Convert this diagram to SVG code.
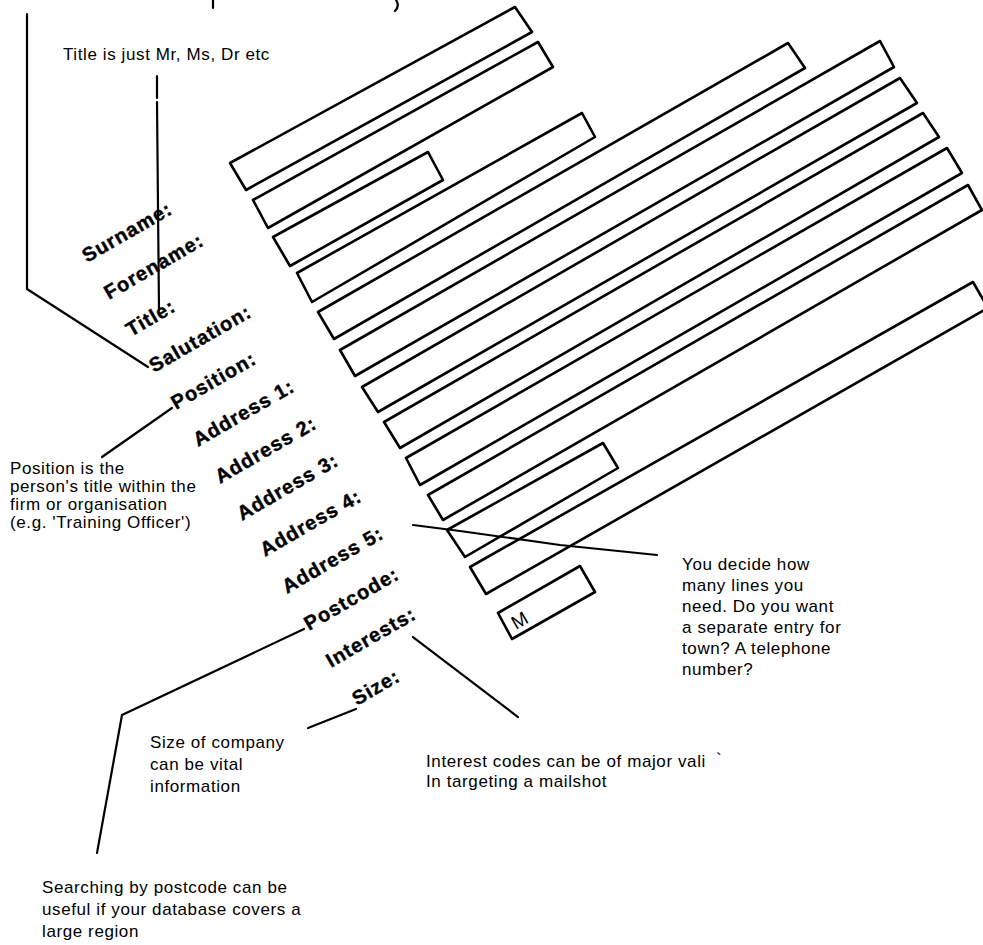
<svg xmlns="http://www.w3.org/2000/svg" width="983" height="945" viewBox="0 0 983 945">
<style>
.box{fill:none;stroke:#000;stroke-width:2.6;stroke-linejoin:round}
.ln{fill:none;stroke:#000;stroke-width:2.2;stroke-linecap:round;stroke-linejoin:round}
.lbl{font-family:"Liberation Sans",Arial,sans-serif;font-weight:bold;font-size:20px;letter-spacing:1px;fill:#000;stroke:#000;stroke-width:0.4}
.note{font-family:"Liberation Sans",Arial,sans-serif;font-size:17px;letter-spacing:0.6px;fill:#000}
</style>
<rect width="983" height="945" fill="#fff"/>
<g id="top-fragments">
<path class="ln" d="M213,0 V8 M396,0 q4,6 -1,11"/>
</g>
<g id="node-surname"><polygon class="box" points="230,163 515,7 532,32 246,190"/><text class="lbl" transform="translate(87,263) rotate(-30)">Surname:</text></g>
<g id="node-forename"><polygon class="box" points="253,200 538,42 553,67 268,228"/><text class="lbl" transform="translate(109,300) rotate(-30)">Forename:</text></g>
<g id="node-title"><polygon class="box" points="273,237 428,152 443,180 290,266"/><text class="lbl" transform="translate(131,337) rotate(-30)">Title:</text></g>
<g id="node-salutation"><polygon class="box" points="297,273 582,113 595,137 312,302"/><text class="lbl" transform="translate(154,373) rotate(-30)">Salutation:</text></g>
<g id="node-position"><polygon class="box" points="318,312 788,43 805,68 334,339"/><text class="lbl" transform="translate(176,410) rotate(-30)">Position:</text></g>
<g id="node-address1"><polygon class="box" points="340,350 880,41 894,67 355,376"/><text class="lbl" transform="translate(198,447) rotate(-30)">Address 1:</text></g>
<g id="node-address2"><polygon class="box" points="362,387 900,78 917,103 378,412"/><text class="lbl" transform="translate(220,484) rotate(-30)">Address 2:</text></g>
<g id="node-address3"><polygon class="box" points="384,422 923,113 939,137 400,448"/><text class="lbl" transform="translate(242,521) rotate(-30)">Address 3:</text></g>
<g id="node-address4"><polygon class="box" points="406,458 947,148 962,173 420,485"/><text class="lbl" transform="translate(265,557) rotate(-30)">Address 4:</text></g>
<g id="node-address5"><polygon class="box" points="428,495 968,185 982,210 443,520"/><text class="lbl" transform="translate(287,594) rotate(-30)">Address 5:</text></g>
<g id="node-postcode"><polygon class="box" points="447,530 603,443 618,468 465,557"/><text class="lbl" transform="translate(309,631) rotate(-30)">Postcode:</text></g>
<g id="node-interests"><polygon class="box" points="470,567 973,282 988,308 486,594"/><text class="lbl" transform="translate(331,668) rotate(-30)">Interests:</text></g>
<g id="node-size"><polygon class="box" points="498,613 580,566 595,592 512,639"/><text class="lbl" transform="translate(357,706) rotate(-30)">Size:</text><text class="note" style="font-size:19px" transform="translate(516,630) rotate(-30)">M</text></g>
<g id="connectors">
<path class="ln" d="M27,14 V289 L148,367"/>
<path class="ln" d="M157,76 V98 M157,102 L159,310"/>
<path class="ln" d="M102,457 L172,408"/>
<path class="ln" d="M97,853 L122,715 L304,629"/>
<path class="ln" d="M308,728 L356,709"/>
<path class="ln" d="M413,637 L518,717"/>
<path class="ln" d="M413,525 L460,531 L560,545 L657,555"/>
</g>
<g id="note-title"><text class="note" x="63" y="60">Title is just Mr, Ms, Dr etc</text></g>
<g id="note-position"><text class="note"><tspan x="10" y="474">Position is the</tspan><tspan x="10" y="492">person's title within the</tspan><tspan x="10" y="510">firm or organisation</tspan><tspan x="10" y="528">(e.g. 'Training Officer')</tspan></text></g>
<g id="note-address"><text class="note"><tspan x="682" y="570">You decide how</tspan><tspan x="682" y="591">many lines you</tspan><tspan x="682" y="612">need. Do you want</tspan><tspan x="682" y="633">a separate entry for</tspan><tspan x="682" y="654">town? A telephone</tspan><tspan x="682" y="675">number?</tspan></text></g>
<g id="note-interests"><text class="note"><tspan x="426" y="767">Interest codes can be of major vali</tspan><tspan x="716" y="765">`</tspan><tspan x="426" y="787">In targeting a mailshot</tspan></text></g>
<g id="note-size"><text class="note"><tspan x="150" y="748">Size of company</tspan><tspan x="150" y="770">can be vital</tspan><tspan x="150" y="792">information</tspan></text></g>
<g id="note-postcode"><text class="note"><tspan x="42" y="893">Searching by postcode can be</tspan><tspan x="42" y="915">useful if your database covers a</tspan><tspan x="42" y="937">large region</tspan></text></g>
</svg>
